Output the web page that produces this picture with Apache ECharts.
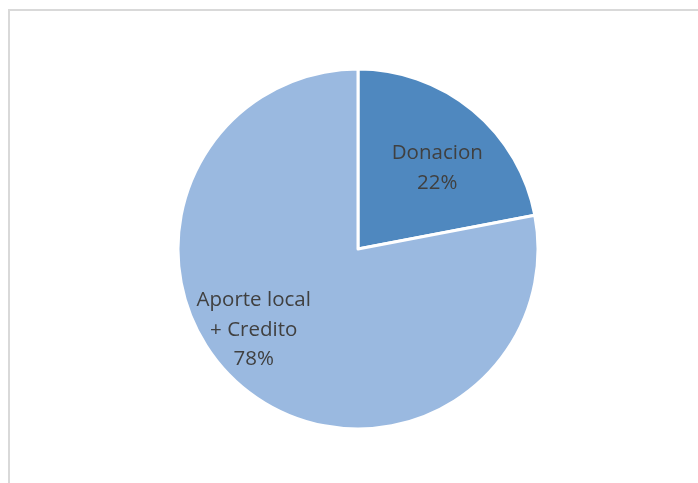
<!DOCTYPE html>
<html><head><meta charset="utf-8">
<script src="https://cdn.jsdelivr.net/npm/echarts@6/dist/echarts.min.js"></script>
<style>html,body{margin:0;padding:0;background:#fff}#c{width:698px;height:483px;}</style>
</head><body><div id="c"></div>
<script>
const categories = ["Donacion", "Aporte local\n+ Credito"];
const values = [22, 78];
const colors = ["#4f88bf", "#9ab9e0"];
const labelOffsets = [[20, -9], [-45, 9]];

const chart = echarts.init(document.getElementById('c'), null, {renderer: 'canvas'});
chart.setOption({
  animation: false,
  backgroundColor: '#fff',
  graphic: [
    {type: 'polyline', shape: {points: [[9, 483], [9, 10], [698, 10]]}, style: {stroke: '#d9d9d9', lineWidth: 2, fill: null}}
  ],
  series: [{
    type: 'pie',
    center: [358, 249],
    radius: [0, 180],
    startAngle: 90,
    clockwise: true,
    itemStyle: {borderColor: '#fff', borderWidth: 3},
    label: {
      show: true,
      position: 'inside',
      color: '#404040',
      fontFamily: 'Open Sans',
      fontSize: 20.5,
      lineHeight: 29.5,
      formatter: p => p.name + '\n' + p.value + '%'
    },
    labelLine: {show: false},
    emphasis: {disabled: true},
    data: categories.map((n, i) => ({name: n, value: values[i], itemStyle: {color: colors[i]}, label: {offset: labelOffsets[i]}}))
  }]
});
</script></body></html>
